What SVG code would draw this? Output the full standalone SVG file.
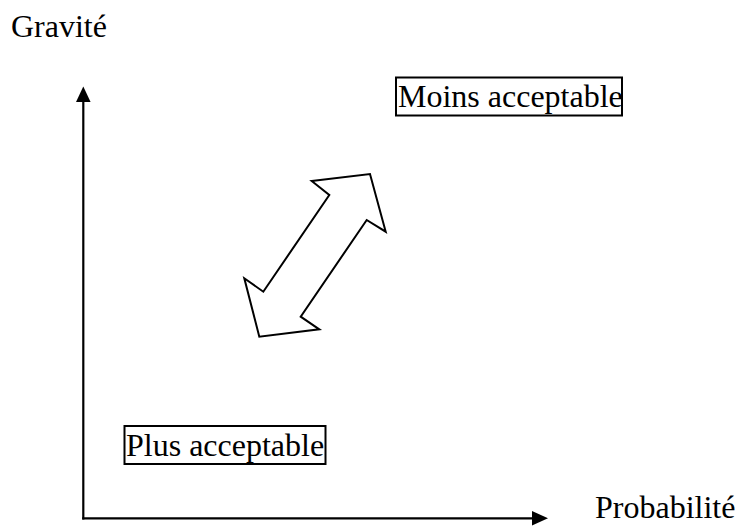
<svg xmlns="http://www.w3.org/2000/svg" width="736" height="527" viewBox="0 0 736 527">
<style>
.t{font-family:"Liberation Serif","Times New Roman",serif;font-size:32px;fill:#000}
.ax{stroke:#000;stroke-width:2.2;fill:none}
.box{fill:#fff;stroke:#000;stroke-width:2}
</style>
<rect width="736" height="527" fill="#fff"/>
<g id="connectors">
<line class="ax" x1="83.3" y1="519.4" x2="83.3" y2="100"/>
<polygon points="83.3,86.5 76,102 90.6,102" fill="#000"/>
<line class="ax" x1="82.2" y1="518.3" x2="534" y2="518.3"/>
<polygon points="548,518.3 532,511 532,525.6" fill="#000"/>
</g>
<g id="label-gravite"><text class="t" x="11" y="37">Gravité</text></g>
<g id="label-probabilite"><text class="t" x="595" y="518">Probabilité</text></g>
<g id="moins">
<rect class="box" x="396" y="77.5" width="226" height="38"/>
<text class="t" x="398" y="107">Moins acceptable</text>
</g>
<g id="plus">
<rect class="box" x="124.5" y="426" width="201" height="38"/>
<text class="t" x="126" y="456">Plus acceptable</text>
</g>
<g id="double-arrow">
<polygon points="311.7,181 370,174 385.7,231.7 366.7,220 300.7,316.7 319.3,329.3 259.3,336.7 244.3,278.3 263.3,291.7 329.3,195" fill="#fff" stroke="#000" stroke-width="2"/>
</g>
</svg>
